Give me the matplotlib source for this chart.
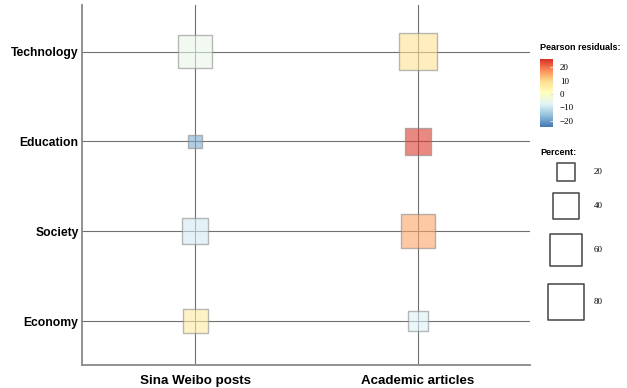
import numpy as np
import matplotlib
matplotlib.use("Agg")
import matplotlib.pyplot as plt
from matplotlib.colors import LinearSegmentedColormap, Normalize
from matplotlib.cm import ScalarMappable

OUTPUT_FILE = "out.png"
DPI = 100

SOURCES = ["Sina Weibo posts", "Academic articles"]
TOPICS = ["Economy", "Society", "Education", "Technology"]

# percent per topic (rows follow TOPICS order)
PERCENT_SINA = [37, 41, 10, 69]
PERCENT_ACADEMIC = [23, 71, 41, 87]

# pearson residuals
RESID_SINA = [6, -9, -18, -5.5]
RESID_ACADEMIC = [-8, 15, 25, 8.5]

RESID_MIN, RESID_MAX = -24.5, 26
LEGEND_PERCENT = [20, 40, 60, 80]
CBAR_TICKS = [-20, -10, 0, 10, 20]

cmap = LinearSegmentedColormap.from_list(
    "rdylbu",
    ["#4575b4", "#91bfdb", "#e0f3f8", "#ffffbf", "#fee090", "#fc8d59", "#d73027"]
)
norm = Normalize(vmin=RESID_MIN, vmax=RESID_MAX)


def marker_area(percent):
    # square side in pixels, area scale
    side_px = np.sqrt(35 + 15.8 * np.asarray(percent, dtype=float))
    return (side_px * 72 / DPI) ** 2


W, H = 627, 388
fig = plt.figure(figsize=(W / DPI, H / DPI), dpi=DPI, facecolor="white")


def px_axes(x0, y0, x1, y1):
    return fig.add_axes([x0 / W, 1 - y1 / H, (x1 - x0) / W, (y1 - y0) / H])


ax = px_axes(82, 5, 530, 365)

y_pos = np.arange(1, len(TOPICS) + 1)
for i, (perc, res) in enumerate([(PERCENT_SINA, RESID_SINA), (PERCENT_ACADEMIC, RESID_ACADEMIC)]):
    ax.scatter(
        np.full(len(TOPICS), i + 1),
        y_pos,
        s=marker_area(perc),
        c=cmap(norm(res)),
        marker="s",
        alpha=0.6,
        edgecolors="#8a8a8a",
        linewidths=1.0,
        zorder=3
    )

ax.set_xlim(0.493, 2.502)
ax.set_ylim(0.51, 4.52)
ax.set_xticks([1, 2])
ax.set_xticklabels(SOURCES, fontsize=9.6, fontweight="bold", family="Liberation Sans")
ax.set_yticks(y_pos)
ax.set_yticklabels(TOPICS, fontsize=8.7, fontweight="bold", family="Liberation Sans")
ax.tick_params(axis="both", length=0)
ax.tick_params(axis="x", pad=7)
ax.tick_params(axis="y", pad=2.5)
ax.grid(True, color="#707070", linewidth=0.8)
ax.set_axisbelow(True)
for side in ["top", "right"]:
    ax.spines[side].set_visible(False)
for side in ["left", "bottom"]:
    ax.spines[side].set_color("#888888")
    ax.spines[side].set_linewidth(1.3)

# colour legend
fig.text(540 / W, 1 - 48 / H, "Pearson residuals:", fontsize=6.5, fontweight="bold",
         family="Liberation Sans", va="center", ha="left")
cax = px_axes(540, 59, 553, 127)
cbar = fig.colorbar(ScalarMappable(norm=norm, cmap=cmap), cax=cax, ticks=CBAR_TICKS)
cbar.outline.set_visible(False)
cbar.ax.tick_params(labelsize=6.5, length=2.5, color="#dddddd", direction="in", pad=5)
cbar.ax.set_yticklabels(["\u221220", "\u221210", "0", "10", "20"])
for lbl in cbar.ax.get_yticklabels():
    lbl.set_family("Liberation Serif")

# size legend
fig.text(540 / W, 1 - 153 / H, "Percent:", fontsize=6.5, fontweight="bold",
         family="Liberation Sans", va="center", ha="left")
lax = px_axes(530, 160, 627, 330)
lax.set_xlim(0, 97)
lax.set_ylim(170, 0)
lax.axis("off")
legend_y = [12, 46, 90, 142]
lax.scatter([36] * len(LEGEND_PERCENT), legend_y, s=marker_area(LEGEND_PERCENT), marker="s",
            facecolors="white", edgecolors="#444444", linewidths=1.1)
for y, p in zip(legend_y, LEGEND_PERCENT):
    lax.text(64, y, str(p), fontsize=6.5, family="Liberation Serif", va="center", ha="left")

plt.savefig(OUTPUT_FILE, dpi=DPI)
